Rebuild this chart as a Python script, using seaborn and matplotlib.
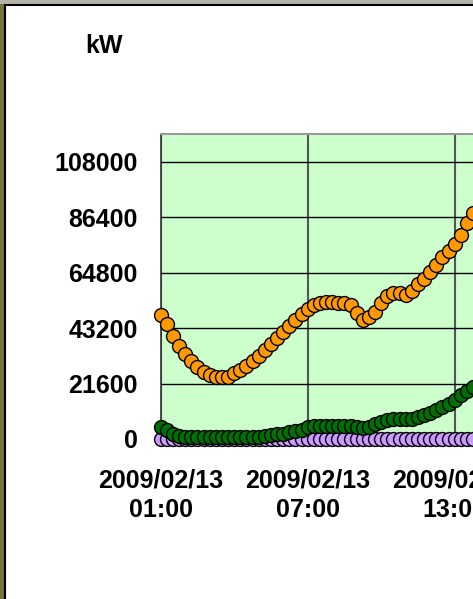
import numpy as np
import pandas as pd
import matplotlib
matplotlib.use("Agg")
import matplotlib.pyplot as plt
import matplotlib.dates as mdates
from matplotlib.patches import Rectangle
import seaborn as sns

# 15-minute readings, 2009/02/13 from 01:00
times = pd.date_range("2009-02-13 01:00", periods=52, freq="15min")

orange_kw = [48350, 44840, 40160, 36260, 32950, 30410, 28070, 26120, 24760, 24170,
             24060, 24290, 25540, 26900, 28460, 30220, 32360, 34510, 36850, 39190,
             41520, 43860, 46200, 48540, 50690, 52050, 52830, 53420, 53220, 53030,
             52830, 52250, 49130, 46400, 47370, 49520, 53030, 55560, 56730, 56730,
             55950, 57710, 60440, 62190, 64920, 67840, 70770, 73300, 75840, 79500,
             84000, 88000]
green_kw = [4800, 3510, 1950, 1170, 900, 900, 900, 900, 900, 900,
            900, 900, 900, 900, 900, 900, 900, 1170, 1370, 1760,
            2140, 2730, 3120, 3700, 4680, 4950, 5190, 5190, 5190, 5190,
            5190, 5190, 4480, 4170, 4680, 5850, 6630, 7290, 7600, 7680,
            7680, 7920, 8380, 9240, 10140, 11190, 12280, 13650, 15210, 16960,
            18520, 20300]
purple_kw = [0] * 52

yticks = [0, 21600, 43200, 64800, 86400, 108000]

df = pd.DataFrame({"time": times, "orange": orange_kw, "green": green_kw, "purple": purple_kw})

sns.set_style("white")
plt.rcParams["font.family"] = ["Liberation Sans", "DejaVu Sans"]
plt.rcParams["text.color"] = "black"
plt.rcParams["xtick.color"] = "black"
plt.rcParams["ytick.color"] = "black"

fig = plt.figure(figsize=(4.73, 5.99), dpi=100)
fig.patch.set_facecolor("#77733c")
# top strip and white chart area with black frame
fig.patches.append(Rectangle((0, 1 - 4 / 599), 1, 4 / 599, transform=fig.transFigure,
                             facecolor="#b4b4a8", edgecolor="none", zorder=-3))
fig.patches.append(Rectangle((4.5 / 473, -0.01), 1.0, 1 - 4.5 / 599 + 0.01, transform=fig.transFigure,
                             facecolor="white", edgecolor="black", linewidth=1.5, zorder=-2))

ax = fig.add_axes([160.7 / 473, 160 / 599, 588 / 473, 305 / 599])
ax.set_facecolor("#ccffcc")

for col, color in [("purple", "#cc99ff"), ("green", "#007000"), ("orange", "#ff9900")]:
    sns.scatterplot(data=df, x="time", y=col, ax=ax, color=color, s=100,
                    edgecolor="black", linewidth=1.0, clip_on=False, zorder=3)

ax.set_xlim(pd.Timestamp("2009-02-13 01:00"), pd.Timestamp("2009-02-14 01:00"))
ax.set_ylim(0, 118800)
ax.set_yticks(yticks)
ax.set_yticklabels([str(v) for v in yticks])
ax.xaxis.set_major_locator(mdates.HourLocator(byhour=[1, 7, 13, 19]))
ax.xaxis.set_major_formatter(mdates.DateFormatter("%Y/%m/%d\n%H:%M"))

ax.grid(axis="y", color="black", linewidth=1.0)
ax.grid(axis="x", color="#555555", linewidth=1.5)
ax.set_axisbelow(True)

for side in ["top", "right"]:
    ax.spines[side].set_color("#999999")
    ax.spines[side].set_linewidth(1.5)
ax.spines["left"].set_color("#333333")
ax.spines["left"].set_linewidth(1.2)
ax.spines["bottom"].set_color("#333333")
ax.spines["bottom"].set_linewidth(1.0)

ax.tick_params(axis="y", length=6, width=1, color="#333333", pad=10.5, labelsize=18)
ax.tick_params(axis="x", length=0, pad=21, labelsize=18)
for lab in ax.get_yticklabels() + ax.get_xticklabels():
    lab.set_fontweight("bold")
for lab in ax.get_xticklabels():
    lab.set_linespacing(1.3)

ax.set_xlabel("")
ax.set_ylabel("")
fig.text(104 / 473, 1 - 46 / 599, "kW", ha="center", va="center",
         fontsize=18, fontweight="bold", color="black")

fig.savefig("out.png", dpi=100)
